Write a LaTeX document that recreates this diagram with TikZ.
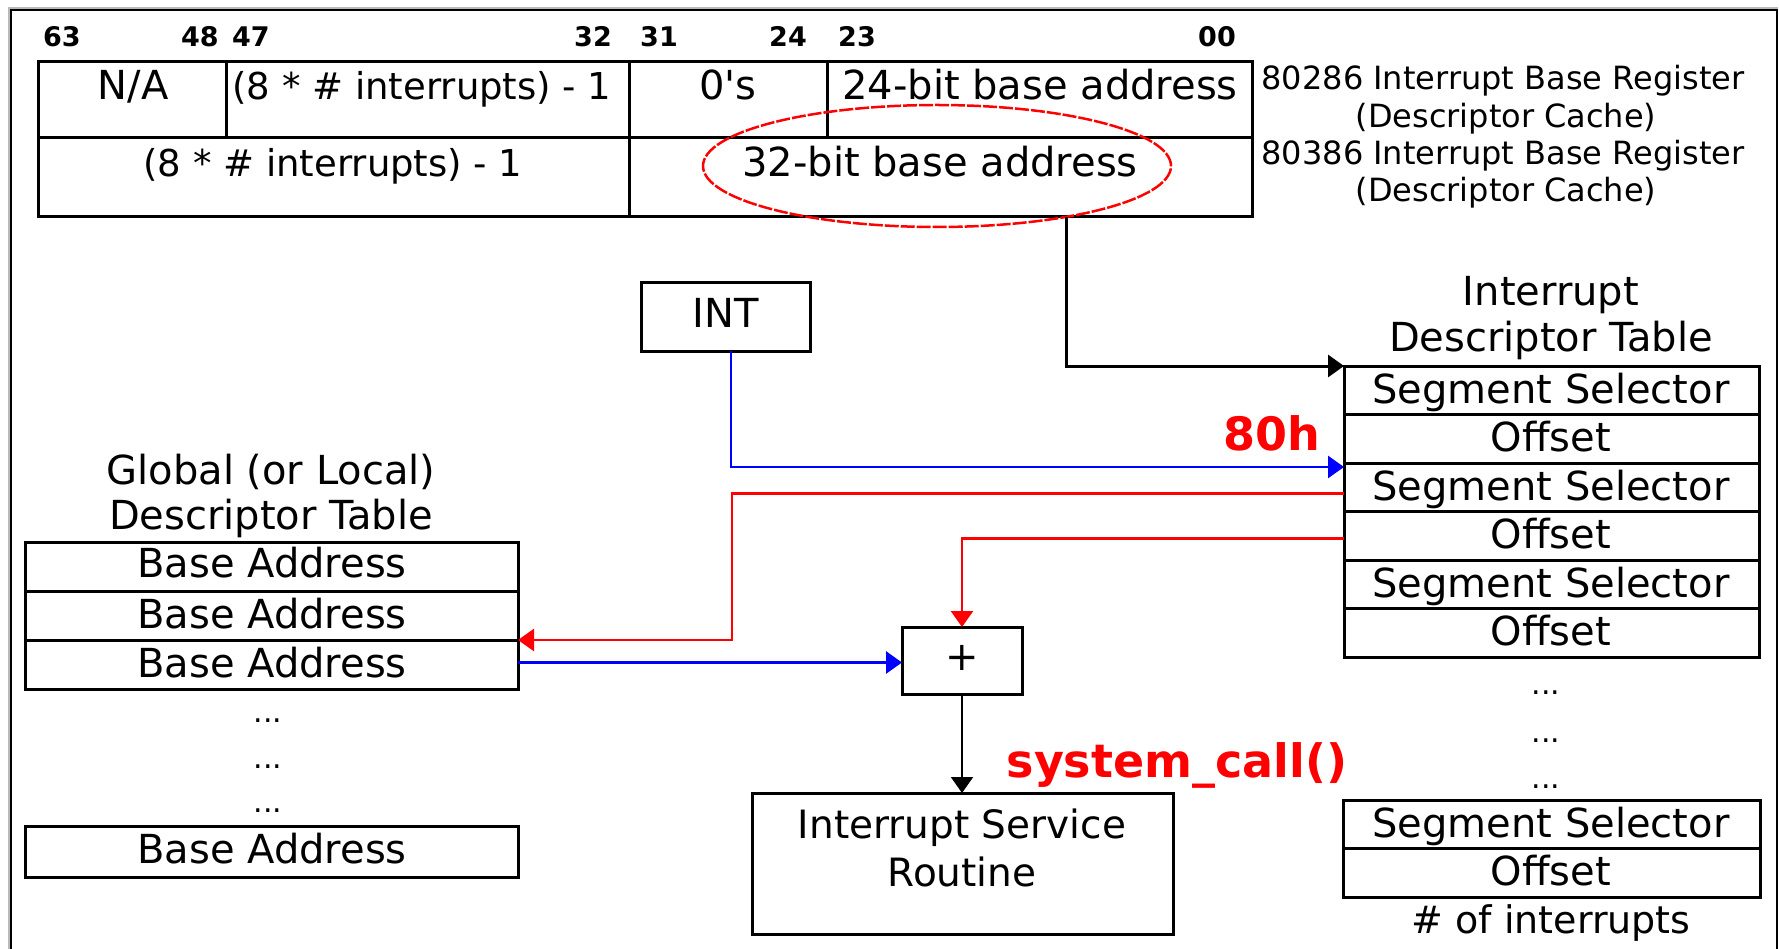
\documentclass[tikz,border=0pt]{standalone}
\usepackage{fontspec}
\setmainfont{DejaVu Sans}[Ligatures=TeXOff]
\usetikzlibrary{arrows.meta,shapes.geometric}
\definecolor{pured}{RGB}{255,0,0}
\definecolor{pblue}{RGB}{0,0,255}
\newcommand{\fsz}[1]{\fontsize{#1}{#1}\selectfont}
\begin{document}
\begin{tikzpicture}[x=1pt,y=-1pt,
  txt/.style={inner sep=0pt, anchor=base, font=\fsz{40}},
  bits/.style={inner sep=0pt, anchor=base west, font=\fsz{27}\bfseries},
  side/.style={inner sep=0pt, anchor=base, font=\fsz{32}},
  dots/.style={inner sep=0pt, anchor=base, font=\fsz{30}},
  hot/.style={inner sep=0pt, anchor=base, font=\fsz{46}\bfseries, text=pured},
  cell/.style={draw, line width=3pt, inner sep=0pt, outer sep=0pt, anchor=north west},
  tip/.style={-{Triangle[length=16pt,width=22pt]}},
  blk/.style={line width=3pt, tip},
  blu/.style={line width=2.8pt, draw=pblue, tip},
  rd/.style={line width=2.8pt, draw=pured, tip},
  thin/.style={line width=2pt, tip}]
\useasboundingbox (0,0) rectangle (1779,949);
% window frame
\draw[gray!55, line width=2pt] (9,949) -- (9,8) -- (1778,8);
\draw[line width=2pt] (11,949) -- (11,10) -- (1777,10) -- (1777,949);

% bit numbers
\node[bits] (b63) at (43,47) {63};
\node[bits] (b48) at (181,47) {48};
\node[bits] (b47) at (232,47) {47};
\node[bits] (b32) at (574,47) {32};
\node[bits] (b31) at (640,47) {31};
\node[bits] (b24) at (769,47) {24};
\node[bits] (b23) at (838,47) {23};
\node[bits] (b00) at (1198,47) {00};

% register table
\node[cell, minimum width=188, minimum height=76] (cna) at (38,62) {};
\node[cell, minimum width=403, minimum height=76] (clim1) at (226,62) {};
\node[cell, minimum width=198, minimum height=76] (czero) at (629,62) {};
\node[cell, minimum width=425, minimum height=76] (cb24) at (827,62) {};
\node[cell, minimum width=591, minimum height=79] (clim2) at (38,138) {};
\node[cell, minimum width=623, minimum height=79] (cb32) at (629,138) {};
\node[txt] (tna) at (133,100) {N/A};
\node[txt, font=\fsz{37}] (tlim1) at (422,100) {(8 * \# interrupts) - 1};
\node[txt] (tzero) at (728,100) {0's};
\node[txt] (tb24) at (1040,100) {24-bit base address};
\node[txt, font=\fsz{37}] (tlim2) at (333,177) {(8 * \# interrupts) - 1};
\node[txt] (tb32) at (940,177) {32-bit base address};
\node[draw=pured, line width=2.5pt, dash pattern=on 14pt off 2pt, ellipse,
      minimum width=468, minimum height=122, inner sep=0pt] (ell) at (937,166) {};

\node[side] (l1a) at (1503,90) {80286 Interrupt Base Register};
\node[side] (l1b) at (1506,128) {(Descriptor Cache)};
\node[side] (l2a) at (1503,165) {80386 Interrupt Base Register};
\node[side] (l2b) at (1506,202) {(Descriptor Cache)};

% INT
\node[cell, minimum width=169, minimum height=68] (int) at (641,283) {};
\node[txt] (tint) at (725.5,327) {INT};

% IDT
\node[txt] (idt1) at (1551,306) {Interrupt};
\node[txt] (idt2) at (1551,351) {Descriptor Table};
\node[cell, minimum width=415, minimum height=48.5] (r1) at (1344,366) {};
\node[cell, minimum width=415, minimum height=48.5] (r2) at (1344,414.5) {};
\node[cell, minimum width=415, minimum height=48.5] (r3) at (1344,463) {};
\node[cell, minimum width=415, minimum height=48.5] (r4) at (1344,511.5) {};
\node[cell, minimum width=415, minimum height=48.5] (r5) at (1344,560) {};
\node[cell, minimum width=415, minimum height=48.5] (r6) at (1344,608.5) {};
\node[txt] (tr1) at (1551,403) {Segment Selector};
\node[txt] (tr2) at (1551,451.5) {Offset};
\node[txt] (tr3) at (1551,500) {Segment Selector};
\node[txt] (tr4) at (1551,548.5) {Offset};
\node[txt] (tr5) at (1551,597) {Segment Selector};
\node[txt] (tr6) at (1551,645.5) {Offset};
\node[dots] (d1) at (1546,694) {...};
\node[dots] (d2) at (1546,742) {...};
\node[dots] (d3) at (1546,788) {...};
\node[cell, minimum width=417, minimum height=48.5] (r7) at (1343,800) {};
\node[cell, minimum width=417, minimum height=48.5] (r8) at (1343,848.5) {};
\node[txt] (tr7) at (1551,837) {Segment Selector};
\node[txt] (tr8) at (1551,885.5) {Offset};
\node[txt, font=\fsz{38}] (tnum) at (1551,933) {\# of interrupts};
\node[hot] (h80) at (1272,450) {80h};

% GDT
\node[txt] (g1t) at (271,484) {Global (or Local)};
\node[txt] (g2t) at (271,529) {Descriptor Table};
\node[cell, minimum width=493, minimum height=49] (g1) at (25,542) {};
\node[cell, minimum width=493, minimum height=49] (g2) at (25,591) {};
\node[cell, minimum width=493, minimum height=49] (g3) at (25,640) {};
\node[txt] (tg1) at (272,577) {Base Address};
\node[txt] (tg2) at (272,628) {Base Address};
\node[txt] (tg3) at (272,677) {Base Address};
\node[dots] (e1) at (268,722) {...};
\node[dots] (e2) at (268,768) {...};
\node[dots] (e3) at (268,812) {...};
\node[cell, minimum width=493, minimum height=51] (g4) at (25,826) {};
\node[txt] (tg4) at (272,863) {Base Address};

% adder and ISR
\node[cell, minimum width=120, minimum height=67] (plus) at (902,627) {};
\node[txt] (tplus) at (962,670) {+};
\node[cell, minimum width=421, minimum height=141] (isr) at (752,793) {};
\node[txt, font=\fsz{39}] (ti1) at (962,838) {Interrupt Service};
\node[txt, font=\fsz{39}] (ti2) at (962,886) {Routine};
\node[hot] (sc) at (1177,777) {system\_call()};

% connectors
\coordinate (tap) at (1066,217);
\coordinate (rcx) at (732,560);
\draw[blk] (tap) |- (r1.north west);
\draw[blu] ([xshift=5.5pt]int.south) |- ([yshift=-4pt]r3.north west);
\draw[rd] ([yshift=-6pt]r3.west) -| (rcx) |- (g3.north east);
\draw[rd] ([yshift=-3pt]r4.west) -| (plus.north);
\draw[blu] ([yshift=2pt]g3.east) -- ([yshift=2pt]g3.east -| plus.west);
\draw[thin] (plus.south) -- (plus.south |- isr.north);
\end{tikzpicture}
\end{document}
